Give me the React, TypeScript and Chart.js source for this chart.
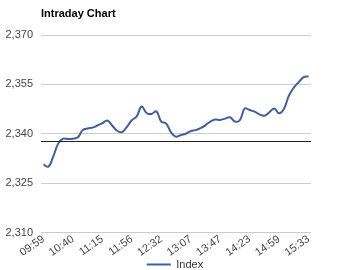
import React, { useEffect, useRef } from "react";
import { Chart, registerables } from "chart.js";

Chart.register(...registerables);

const TITLE = "Intraday Chart";
const SERIES_NAME = "Index";
const TICK_LABELS = ["09:59", "10:40", "11:15", "11:56", "12:32", "13:07", "13:47", "14:23", "14:59", "15:33"];
const LABEL_EVERY = 6;
const INDEX_VALUES = [
  2330.7, 2330.0, 2333.1, 2337.0, 2338.5, 2338.4, 2338.5, 2338.9, 2341.1, 2341.6,
  2341.85, 2342.5, 2343.2, 2344.0, 2342.5, 2340.9, 2340.5, 2342.1, 2344.1, 2345.3,
  2348.3, 2346.3, 2346.0, 2346.8, 2343.7, 2343.1, 2340.4, 2339.1, 2339.6, 2340.0,
  2340.8, 2341.1, 2341.7, 2342.6, 2343.7, 2344.3, 2344.2, 2344.6, 2345.0, 2343.7,
  2344.1, 2347.7, 2347.2, 2346.7, 2345.9, 2345.5, 2346.5, 2347.7, 2346.2, 2347.6,
  2351.6, 2354.0, 2355.7, 2357.2, 2357.4,
];
const PREV_CLOSE = 2337.8;
const Y_MIN = 2310;
const Y_MAX = 2370;
const Y_STEP = 15;

const FONT = "'Liberation Sans', Arial, sans-serif";
const LINE_COLOR = "#3e5f9f";

const refLinePlugin = {
  id: "refLine",
  afterDatasetsDraw(chart: any) {
    const { ctx, chartArea, scales } = chart;
    const y = Math.round(scales.y.getPixelForValue(PREV_CLOSE)) + 0.5;
    ctx.save();
    ctx.strokeStyle = "#222";
    ctx.lineWidth = 1;
    ctx.beginPath();
    ctx.moveTo(chartArea.left, y);
    ctx.lineTo(chartArea.right, y);
    ctx.stroke();
    ctx.restore();
  },
};

export default function App() {
  const canvasRef = useRef<HTMLCanvasElement | null>(null);

  useEffect(() => {
    document.body.style.margin = "0";
    const labels = INDEX_VALUES.map((_, i) =>
      i % LABEL_EVERY === 0 ? TICK_LABELS[i / LABEL_EVERY] ?? "" : ""
    );
    const chart = new Chart(canvasRef.current as HTMLCanvasElement, {
      type: "line",
      data: {
        labels,
        datasets: [
          {
            label: SERIES_NAME,
            data: INDEX_VALUES,
            borderColor: LINE_COLOR,
            backgroundColor: LINE_COLOR,
            borderWidth: 2,
            pointRadius: 0,
            pointStyle: "line",
            tension: 0.4,
            fill: false,
          },
        ],
      },
      plugins: [refLinePlugin],
      options: {
        animation: false,
        responsive: false,
        maintainAspectRatio: false,
        layout: { padding: { left: 0, right: 0, top: 35, bottom: -10 } },
        plugins: {
          title: { display: false },
          tooltip: { enabled: false },
          legend: {
            display: true,
            position: "bottom",
            labels: {
              usePointStyle: true,
              pointStyleWidth: 24,
              boxHeight: 2,
              color: "#333",
              padding: 0,
              font: { family: FONT, size: 11 },
            },
          },
        },
        scales: {
          x: {
            offset: true,
            grid: { display: false, drawTicks: false },
            border: { display: false },
            afterFit: (s: any) => {
              s.height = 26.5;
            },
            ticks: {
              autoSkip: false,
              minRotation: 35,
              maxRotation: 35,
              padding: 0,
              color: "#444",
              font: { family: FONT, size: 11 },
            },
          },
          y: {
            min: Y_MIN,
            max: Y_MAX,
            afterFit: (s: any) => {
              s.width = 41;
            },
            grid: { color: "#cccccc", drawTicks: false },
            border: { display: false },
            ticks: {
              stepSize: Y_STEP,
              padding: 8,
              color: "#444",
              font: { family: FONT, size: 11 },
              callback: (v: any) => Number(v).toLocaleString("en-US"),
            },
          },
          yRight: {
            position: "right",
            min: Y_MIN,
            max: Y_MAX,
            afterFit: (s: any) => {
              s.width = 39;
            },
            grid: { display: false, drawTicks: false },
            border: { display: false },
            ticks: { display: false },
          },
        },
      },
    });
    return () => chart.destroy();
  }, []);

  return (
    <div style={{ position: "absolute", left: 0, top: 0, width: 350, height: 270, background: "#fff" }}>
      <div
        style={{
          position: "absolute",
          left: 41,
          top: 7,
          fontFamily: FONT,
          fontWeight: "bold",
          fontSize: 11,
          color: "#000",
          lineHeight: "13px",
        }}
      >
        {TITLE}
      </div>
      <canvas ref={canvasRef} width={350} height={270} style={{ display: "block" }} />
    </div>
  );
}
